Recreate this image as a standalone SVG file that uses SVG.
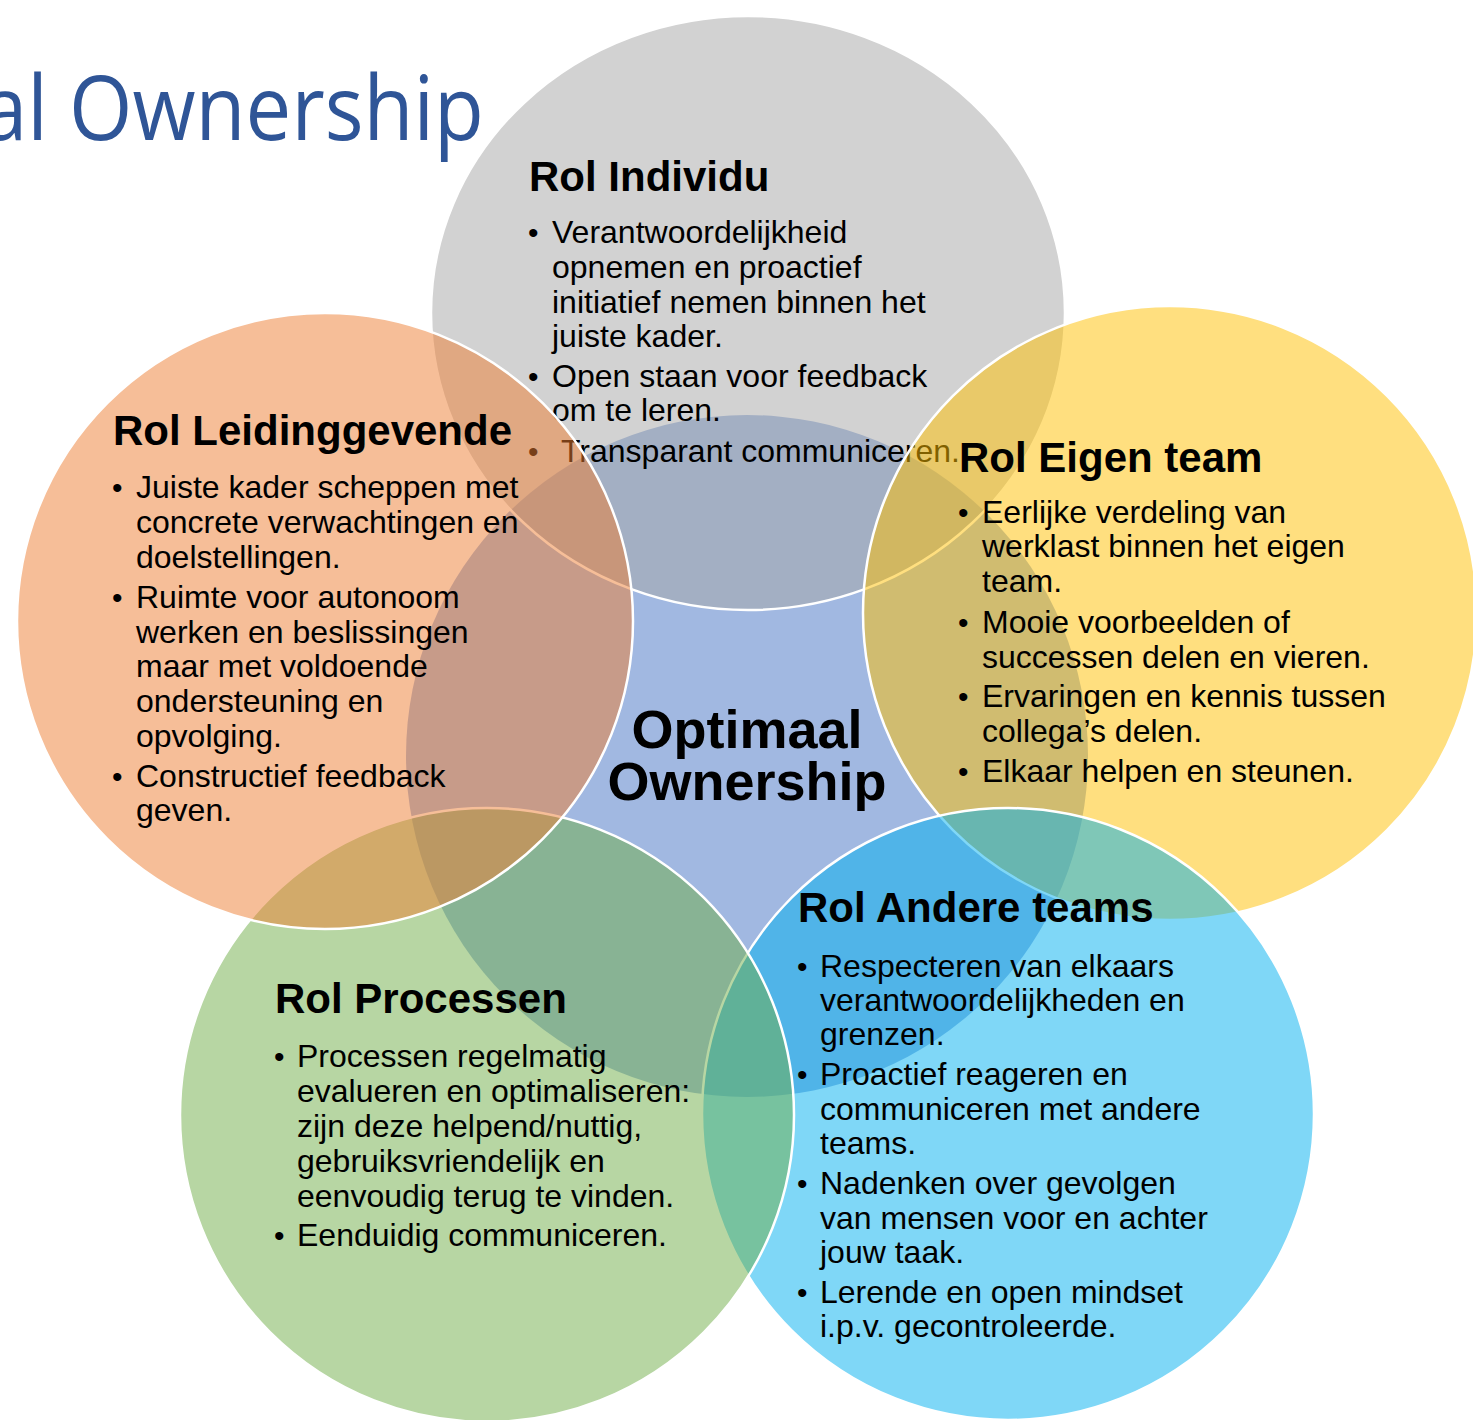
<svg xmlns="http://www.w3.org/2000/svg" width="1473" height="1420" viewBox="0 0 1473 1420">
<style>
.c{stroke:#FFFFFF;stroke-width:2.5;fill-opacity:0.5}
.h{font-family:"Liberation Sans",Arial,Helvetica,sans-serif;font-weight:bold;font-size:42px;fill:#000}
.t{font-family:"Liberation Sans",Arial,Helvetica,sans-serif;font-size:32px;fill:#000}
.b{font-family:"Liberation Sans",Arial,Helvetica,sans-serif;font-size:30px;fill:#000}
.m{font-family:"Liberation Sans",Arial,Helvetica,sans-serif;font-weight:bold;font-size:54px;fill:#000;text-anchor:middle}
</style>
<rect width="1473" height="1420" fill="#FFFFFF"/>
<text id="title" x="-18" y="140" textLength="502" lengthAdjust="spacingAndGlyphs" style="font-family:'Open Sans','Noto Sans',sans-serif;font-size:90px;fill:#2F5597">al Ownership</text>
<g id="center">
<circle cx="747" cy="756" r="341" fill="#4472C4" fill-opacity="0.5"/>
</g>
<g id="connectors"/>
<g id="individu">
<ellipse class="c" cx="748" cy="313" rx="317" ry="297" fill="#A5A5A5"/>
<text class="h" x="529" y="191">Rol Individu</text>
<text class="b" x="528" y="243">•</text>
<text class="t" x="552" y="243">Verantwoordelijkheid</text>
<text class="t" x="552" y="278">opnemen en proactief</text>
<text class="t" x="552" y="313">initiatief nemen binnen het</text>
<text class="t" x="552" y="347">juiste kader.</text>
<text class="b" x="528" y="387">•</text>
<text class="t" x="552" y="387">Open staan voor feedback</text>
<text class="t" x="552" y="421">om te leren.</text>
<text class="b" x="528" y="462">•</text>
<text class="t" x="561" y="462">Transparant communiceren.</text>
</g>
<g id="eigen-team">
<circle class="c" cx="1170" cy="613" r="307" fill="#FFC000"/>
<text class="h" x="959" y="472">Rol Eigen team</text>
<text class="b" x="958" y="523">•</text>
<text class="t" x="982" y="523">Eerlijke verdeling van</text>
<text class="t" x="982" y="557">werklast binnen het eigen</text>
<text class="t" x="982" y="592">team.</text>
<text class="b" x="958" y="633">•</text>
<text class="t" x="982" y="633">Mooie voorbeelden of</text>
<text class="t" x="982" y="668">successen delen en vieren.</text>
<text class="b" x="958" y="707">•</text>
<text class="t" x="982" y="707">Ervaringen en kennis tussen</text>
<text class="t" x="982" y="742">collega’s delen.</text>
<text class="b" x="958" y="782">•</text>
<text class="t" x="982" y="782">Elkaar helpen en steunen.</text>
</g>
<g id="andere-teams">
<circle class="c" cx="1008" cy="1114" r="306" fill="#00B0F0"/>
<text class="h" x="798" y="922">Rol Andere teams</text>
<text class="b" x="797" y="977">•</text>
<text class="t" x="820" y="977">Respecteren van elkaars</text>
<text class="t" x="820" y="1011">verantwoordelijkheden en</text>
<text class="t" x="820" y="1045">grenzen.</text>
<text class="b" x="797" y="1085">•</text>
<text class="t" x="820" y="1085">Proactief reageren en</text>
<text class="t" x="820" y="1120">communiceren met andere</text>
<text class="t" x="820" y="1154">teams.</text>
<text class="b" x="797" y="1194">•</text>
<text class="t" x="820" y="1194">Nadenken over gevolgen</text>
<text class="t" x="820" y="1229">van mensen voor en achter</text>
<text class="t" x="820" y="1263">jouw taak.</text>
<text class="b" x="797" y="1303">•</text>
<text class="t" x="820" y="1303">Lerende en open mindset</text>
<text class="t" x="820" y="1337">i.p.v. gecontroleerde.</text>
</g>
<g id="processen">
<circle class="c" cx="487" cy="1115" r="307" fill="#70AD47"/>
<text class="h" x="275" y="1013">Rol Processen</text>
<text class="b" x="274" y="1067">•</text>
<text class="t" x="297" y="1067">Processen regelmatig</text>
<text class="t" x="297" y="1102">evalueren en optimaliseren:</text>
<text class="t" x="297" y="1137">zijn deze helpend/nuttig,</text>
<text class="t" x="297" y="1172">gebruiksvriendelijk en</text>
<text class="t" x="297" y="1207">eenvoudig terug te vinden.</text>
<text class="b" x="274" y="1246">•</text>
<text class="t" x="297" y="1246">Eenduidig communiceren.</text>
</g>
<g id="leidinggevende">
<circle class="c" cx="325" cy="621" r="308" fill="#ED7D31"/>
<text class="h" x="113" y="445">Rol Leidinggevende</text>
<text class="b" x="112" y="498">•</text>
<text class="t" x="136" y="498">Juiste kader scheppen met</text>
<text class="t" x="136" y="533">concrete verwachtingen en</text>
<text class="t" x="136" y="568">doelstellingen.</text>
<text class="b" x="112" y="608">•</text>
<text class="t" x="136" y="608">Ruimte voor autonoom</text>
<text class="t" x="136" y="643">werken en beslissingen</text>
<text class="t" x="136" y="677">maar met voldoende</text>
<text class="t" x="136" y="712">ondersteuning en</text>
<text class="t" x="136" y="747">opvolging.</text>
<text class="b" x="112" y="787">•</text>
<text class="t" x="136" y="787">Constructief feedback</text>
<text class="t" x="136" y="821">geven.</text>
</g>
<g id="center-label">
<text class="m"><tspan x="747" y="748">Optimaal</tspan><tspan x="747" y="800">Ownership</tspan></text>
</g>
</svg>
